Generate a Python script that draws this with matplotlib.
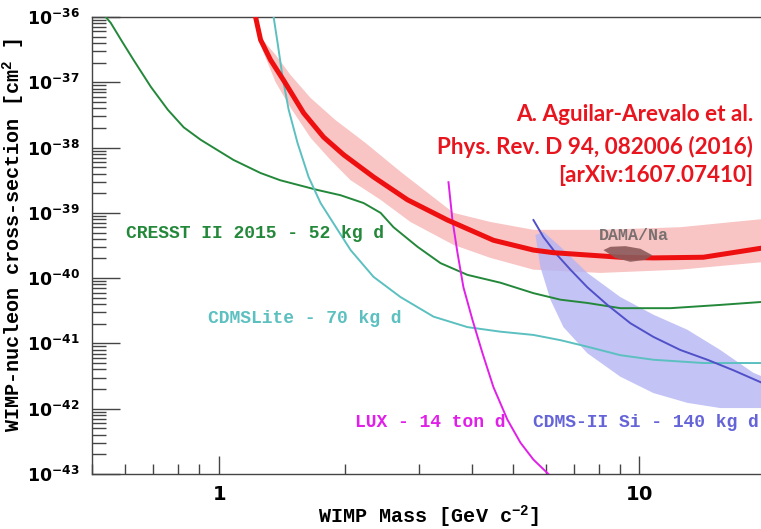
import numpy as np
import matplotlib
matplotlib.use("Agg")
import matplotlib.pyplot as plt
from matplotlib.ticker import FixedLocator, LogLocator, FuncFormatter, NullFormatter

plt.rcParams['mathtext.fontset'] = 'custom'
plt.rcParams['mathtext.rm'] = 'Liberation Mono:bold'
plt.rcParams['mathtext.sf'] = 'DejaVu Sans:bold'

# Exclusion limits: WIMP mass [GeV] vs log10 of cross-section [cm^2]
cresst_mass = [0.539, 0.554, 0.590, 0.628, 0.690, 0.757, 0.826, 0.906, 1.000, 1.085, 1.258, 1.400,
               1.540, 1.719, 1.949, 2.211, 2.426, 2.604, 2.970, 3.368, 3.903, 4.676, 5.601, 6.493,
               7.523, 9.013, 11.85, 15.57, 20.0]
cresst_logsig = [-36.0, -36.09, -36.38, -36.66, -37.07, -37.42, -37.69, -37.88, -38.05, -38.19,
                 -38.39, -38.50, -38.57, -38.65, -38.73, -38.85, -39.00, -39.22, -39.52, -39.77,
                 -39.95, -40.07, -40.23, -40.33, -40.38, -40.46, -40.46, -40.41, -40.36]

cdmslite_mass = [1.351, 1.381, 1.419, 1.467, 1.540, 1.636, 1.747, 1.918, 2.059, 2.334, 2.706,
                 3.242, 3.903, 4.676, 5.601, 6.493, 7.523, 9.013, 10.80, 14.19, 20.0]
cdmslite_logsig = [-36.0, -36.40, -36.92, -37.42, -37.93, -38.45, -38.85, -39.26, -39.57, -39.98,
                   -40.29, -40.59, -40.75, -40.82, -40.87, -40.95, -41.05, -41.18, -41.25, -41.30,
                   -41.30]

lux_mass = [3.518, 3.595, 3.695, 3.818, 4.012, 4.238, 4.500, 4.859, 5.216, 5.601, 6.078]
lux_logsig = [-38.53, -39.11, -39.61, -40.14, -40.64, -41.15, -41.67, -42.17, -42.52, -42.78, -43.0]

cdms_si_mass = [5.601, 5.916, 6.388, 6.857, 7.523, 8.395, 9.519, 10.80, 12.51, 14.51, 16.72, 20.0]
cdms_si_logsig = [-39.11, -39.37, -39.65, -39.87, -40.14, -40.41, -40.69, -40.90, -41.10, -41.25,
                  -41.41, -41.63]

# CDMS-II Si signal region (upper and lower boundary)
si_up_mass = [5.662, 5.916, 6.493, 7.523, 9.013, 10.80, 13.00, 15.57, 18.66, 20.0]
si_up_logsig = [-39.34, -39.29, -39.52, -39.92, -40.29, -40.56, -40.79, -41.10, -41.45, -41.53]
si_lo_mass = [5.662, 5.818, 6.147, 6.600, 7.523, 9.013, 10.80, 13.00, 15.57, 20.0]
si_lo_logsig = [-39.34, -39.83, -40.33, -40.75, -41.15, -41.51, -41.76, -41.91, -41.99, -41.99]

# CONNIE limit and its band
connie_mass = [1.224, 1.258, 1.329, 1.427, 1.592, 1.776, 1.982, 2.334, 2.811, 3.499, 4.500,
               5.601, 6.249, 9.013, 10.80, 14.19, 20.0]
connie_logsig = [-36.0, -36.35, -36.66, -36.97, -37.47, -37.84, -38.11, -38.45, -38.80, -39.11,
                 -39.42, -39.57, -39.61, -39.68, -39.69, -39.68, -39.53]
band_up_mass = [1.272, 1.366, 1.483, 1.654, 1.896, 2.235, 2.706, 3.616, 4.427, 5.601, 8.077,
                12.51, 20.0]
band_up_logsig = [-36.35, -36.58, -36.89, -37.24, -37.58, -37.93, -38.37, -39.00, -39.14, -39.26,
                  -39.26, -39.22, -39.09]
band_lo_mass = [1.272, 1.366, 1.483, 1.654, 1.845, 2.059, 2.426, 2.858, 3.616, 4.427, 5.601,
                8.077, 12.51, 20.0]
band_lo_logsig = [-36.51, -37.00, -37.39, -37.85, -38.19, -38.50, -38.80, -39.14, -39.49, -39.69,
                  -39.87, -39.92, -39.87, -39.75]

# DAMA/Na island outline
dama_mass = [8.214, 8.534, 9.262, 10.06, 10.74, 10.33, 9.519, 8.770]
dama_logsig = [-39.57, -39.52, -39.51, -39.55, -39.65, -39.72, -39.75, -39.69]

y_decades = [-43, -42, -41, -40, -39, -38, -37, -36]

def sig(v):
    return 10.0 ** np.array(v, dtype=float)

fig = plt.figure(figsize=(7.61, 5.29), dpi=100)
ax = fig.add_axes([92 / 761, 55 / 529, 674 / 761, 457 / 529])
ax.set_xscale('log')
ax.set_yscale('log')
ax.set_xlim(0.5, 20)
ax.set_ylim(1e-43, 1e-36)

# shaded regions
ax.fill(band_up_mass + band_lo_mass[::-1], np.concatenate([sig(band_up_logsig), sig(band_lo_logsig)[::-1]]),
        color='#f8c4c4', lw=0, zorder=1)
ax.fill(si_up_mass + si_lo_mass[::-1], np.concatenate([sig(si_up_logsig), sig(si_lo_logsig)[::-1]]),
        color='#b4b4f4', alpha=0.8, lw=0, zorder=2)

ax.plot(cresst_mass, sig(cresst_logsig), color='#24883a', lw=1.4, zorder=3)
ax.plot(cdmslite_mass, sig(cdmslite_logsig), color='#5cc0c0', lw=1.4, zorder=3)
ax.plot(lux_mass, sig(lux_logsig), color='#e020e8', lw=1.4, zorder=3)
ax.plot(cdms_si_mass, sig(cdms_si_logsig), color='#5050c8', lw=1.4, zorder=3)
ax.plot(connie_mass, sig(connie_logsig), color='#ee1010', lw=3.6, zorder=4)
ax.fill(dama_mass, sig(dama_logsig), color='#8c5a5a', alpha=0.9, lw=0, zorder=5)

# axes styling
for side in ['left', 'bottom', 'top']:
    ax.spines[side].set_color('#444444')
    ax.spines[side].set_linewidth(1.0)
ax.spines['right'].set_visible(False)

ax.yaxis.set_major_locator(FixedLocator(sig(y_decades)))
ax.yaxis.set_minor_locator(LogLocator(base=10, subs=np.arange(2, 10), numticks=20))
ax.yaxis.set_minor_formatter(NullFormatter())
ax.yaxis.set_major_formatter(FuncFormatter(lambda v, p: r'$\mathsf{10^{%d}}$' % round(np.log10(v))))
ax.xaxis.set_major_locator(FixedLocator([1, 10]))
ax.xaxis.set_major_formatter(FuncFormatter(lambda v, p: r'$\mathsf{%g}$' % v))
ax.xaxis.set_minor_formatter(NullFormatter())

ax.tick_params(axis='y', which='major', direction='in', length=20, width=1.0, color='#444444',
               labelsize=12.5, pad=9)
ax.tick_params(axis='y', which='minor', direction='in', length=10, width=1.0, color='#444444')
ax.tick_params(axis='x', which='major', direction='in', length=13, width=1.0, color='#444444',
               labelsize=14, pad=8)
ax.tick_params(axis='x', which='minor', direction='in', length=7, width=1.0, color='#444444')

mono = dict(family='Liberation Mono', weight='bold')
ax.set_xlabel(r'WIMP Mass [GeV c$^{-2}$]', fontsize=14.5, **mono)
ax.xaxis.set_label_coords(0.5, -0.064)
ax.set_ylabel(r'WIMP-nucleon cross-section [cm$^{2}$ ]', fontsize=14.5, **mono)
ax.yaxis.set_label_coords(-0.097, 0.523)

ax.text(0.050, 0.527, 'CRESST II 2015 - 52 kg d', transform=ax.transAxes, color='#24883a',
        fontsize=13, va='center', **mono)
ax.text(0.172, 0.341, 'CDMSLite - 70 kg d', transform=ax.transAxes, color='#5cc0c0',
        fontsize=13, va='center', **mono)
ax.text(0.390, 0.112, 'LUX - 14 ton d', transform=ax.transAxes, color='#e020e8',
        fontsize=13, va='center', **mono)
ax.text(0.654, 0.112, 'CDMS-II Si - 140 kg d', transform=ax.transAxes, color='#6464d8',
        fontsize=13, va='center', **mono)
ax.text(0.804, 0.521, 'DAMA/Na', transform=ax.transAxes, color='#7a7070',
        fontsize=12, va='center', ha='center', **mono)

cite = ['A. Aguilar-Arevalo et al.', 'Phys. Rev. D 94, 082006 (2016)', '[arXiv:1607.07410]']
for line, yy in zip(cite, [0.786, 0.716, 0.654]):
    ax.text(0.981, yy, line, transform=ax.transAxes, color='#e8141e', fontsize=16.2,
            family='Lato', weight='bold', ha='right', va='center')

fig.savefig('out.png', dpi=100)
